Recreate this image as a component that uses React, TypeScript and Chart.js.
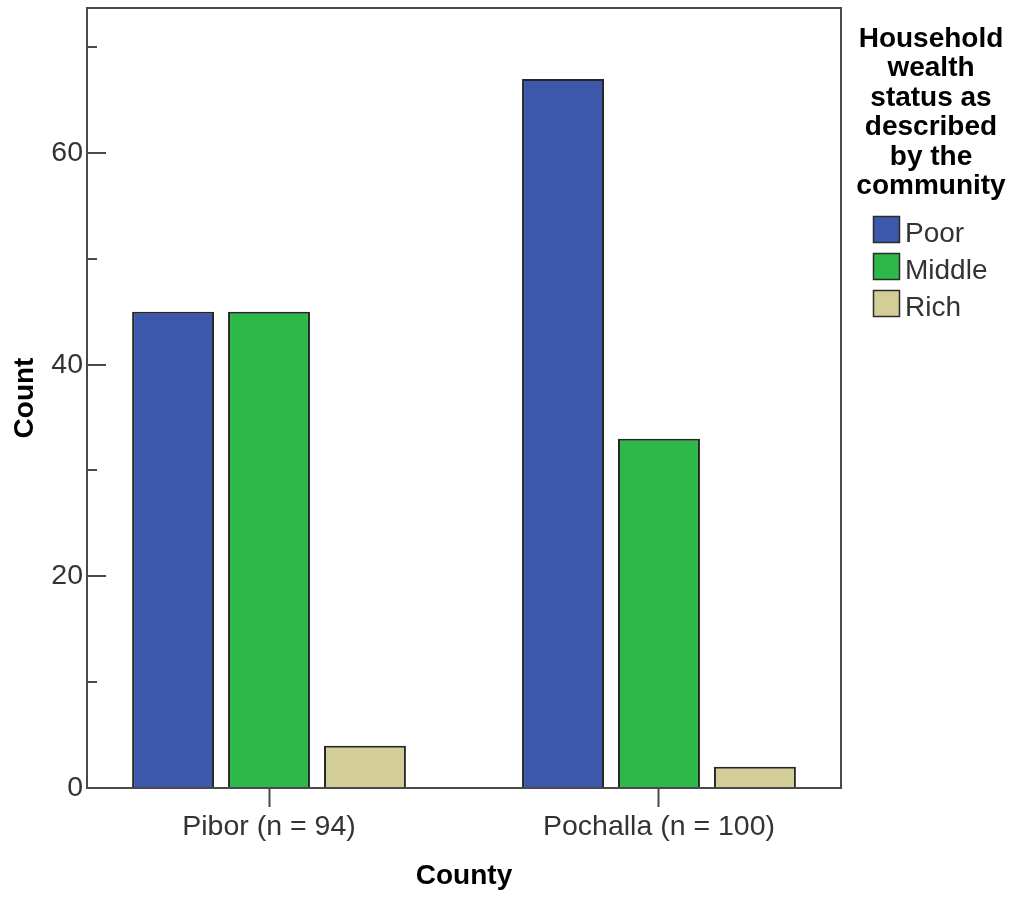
import React, { useEffect, useRef } from 'react';
import { Chart, registerables } from 'chart.js';

Chart.register(...registerables);

const categories = ['Pibor (n = 94)', 'Pochalla (n = 100)'];
const seriesNames = ['Poor', 'Middle', 'Rich'];
const poorCounts = [45, 67];
const middleCounts = [45, 33];
const richCounts = [4, 2];
const seriesColors = ['#3d58ab', '#2eb84a', '#d3ce97'];
const yTickValues = [0, 10, 20, 30, 40, 50, 60, 70];
const yLabelValues = [0, 20, 40, 60];
const legendTitleLines = ['Household', 'wealth', 'status as', 'described', 'by the', 'community'];
const xAxisTitle = 'County';
const yAxisTitle = 'Count';

const FONT = '"Liberation Sans", Arial, sans-serif';

const toPoints = (vals: number[]) => vals.map((v, i) => ({ x: i, y: v }));

const framePlugin = {
  id: 'spssFrame',
  afterDatasetsDraw(chart: any) {
    const { ctx, chartArea } = chart;
    const ys = chart.scales.y;
    ctx.save();
    ctx.strokeStyle = '#4a4a4a';
    ctx.lineWidth = 2;
    yTickValues.forEach((v) => {
      const py = Math.round(ys.getPixelForValue(v));
      const len = yLabelValues.includes(v) ? 19 : 10;
      ctx.beginPath();
      ctx.moveTo(chartArea.left, py);
      ctx.lineTo(chartArea.left + len, py);
      ctx.stroke();
    });
    ctx.strokeRect(chartArea.left, chartArea.top, chartArea.right - chartArea.left, chartArea.bottom - chartArea.top);
    ctx.restore();
  },
  afterDraw(chart: any) {
    const { ctx } = chart;
    ctx.save();
    ctx.fillStyle = '#000';
    ctx.font = `bold 28px ${FONT}`;
    ctx.textAlign = 'center';
    ctx.textBaseline = 'alphabetic';
    legendTitleLines.forEach((line, i) => {
      ctx.fillText(line, 931, 47 + i * 29.4);
    });
    ctx.font = `28px ${FONT}`;
    ctx.textAlign = 'left';
    chart.data.datasets.forEach((ds: any, i: number) => {
      const top = 216 + i * 37;
      ctx.fillStyle = ds.backgroundColor;
      ctx.fillRect(873, top, 27, 27);
      ctx.strokeStyle = '#2b2b2b';
      ctx.lineWidth = 1.5;
      ctx.strokeRect(873.5, top + 0.5, 26, 26);
      ctx.fillStyle = '#333';
      ctx.fillText(ds.label, 905, top + 26);
    });
    ctx.restore();
  },
};

export default function App() {
  const ref = useRef<HTMLCanvasElement | null>(null);
  useEffect(() => {
    document.body.style.margin = '0';
    const canvas = ref.current;
    if (!canvas) return;
    const chart = new Chart(canvas, {
      type: 'bar',
      data: {
        datasets: [poorCounts, middleCounts, richCounts].map((vals, i) => ({
          label: seriesNames[i],
          data: toPoints(vals),
          backgroundColor: seriesColors[i],
          borderColor: '#262626',
          borderWidth: 2,
          categoryPercentage: 0.738,
          barPercentage: 0.854,
        })),
      },
      options: {
        animation: false,
        responsive: false,
        maintainAspectRatio: false,
        layout: { padding: { top: 8, right: 175, left: 0, bottom: 0 } },
        plugins: {
          legend: { display: false },
          tooltip: { enabled: false },
        },
        scales: {
          x: {
            type: 'linear',
            min: -0.4667,
            max: 1.4667,
            offset: false,
            afterBuildTicks: (scale: any) => {
              scale.ticks = categories.map((_, i) => ({ value: i }));
            },
            afterFit: (scale: any) => {
              scale.height = 110;
              scale.paddingLeft = 0;
              scale.paddingRight = 0;
            },
            ticks: {
              callback: (v: any) => categories[v] ?? '',
              color: '#333',
              font: { family: FONT, size: 28.5 },
              padding: 3,
              maxRotation: 0,
              autoSkip: false,
            },
            grid: {
              display: true,
              offset: false,
              drawOnChartArea: false,
              drawTicks: true,
              tickLength: 19,
              tickColor: '#4a4a4a',
              tickWidth: 2,
            },
            border: { display: false },
            title: {
              display: true,
              text: xAxisTitle,
              color: '#000',
              font: { family: FONT, size: 28, weight: 'bold', lineHeight: 1.2 },
              padding: { top: 0, bottom: 5 },
            },
          },
          y: {
            min: 0,
            max: 73.7,
            afterBuildTicks: (scale: any) => {
              scale.ticks = yTickValues.map((v) => ({ value: v }));
            },
            afterFit: (scale: any) => {
              scale.width = 87;
              scale.paddingTop = 0;
              scale.paddingBottom = 0;
            },
            ticks: {
              callback: (v: any) => (yLabelValues.includes(v) ? String(v) : ''),
              color: '#333',
              font: { family: FONT, size: 28.5 },
              padding: 4,
              autoSkip: false,
            },
            grid: { display: false, drawTicks: false },
            border: { display: false },
            title: {
              display: true,
              text: yAxisTitle,
              color: '#000',
              font: { family: FONT, size: 28, weight: 'bold', lineHeight: 1.2 },
              padding: { top: 8, bottom: 0 },
            },
          },
        },
      },
      plugins: [framePlugin],
    } as any);
    return () => chart.destroy();
  }, []);
  return (
    <div style={{ width: 1016, height: 898, position: 'relative' }}>
      <canvas ref={ref} width={1016} height={898} style={{ display: 'block', width: 1016, height: 898 }} />
    </div>
  );
}
